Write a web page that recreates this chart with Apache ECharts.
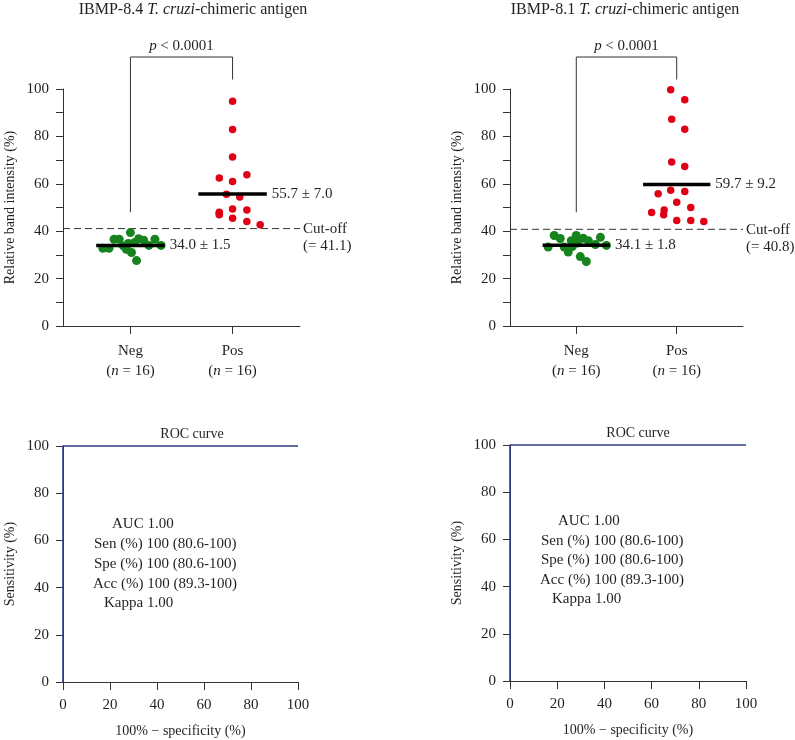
<!DOCTYPE html>
<html>
<head>
<meta charset="utf-8">
<script src="https://cdn.jsdelivr.net/npm/echarts@6/dist/echarts.min.js"></script>
<style>html,body{margin:0;padding:0;background:#fff}#c{width:795px;height:740px}</style>
</head>
<body>
<div id="c"></div>
<script>
// ---------- data ----------
const categories = ['Neg', 'Pos'];
const groupN = [16, 16];
const antigens = ['IBMP-8.4', 'IBMP-8.1'];

const neg84 = [32.8, 32.8, 36.6, 36.6, 33.8, 32.4, 39.4, 34.8, 31.0, 27.6, 36.8, 36.2, 35.2, 34.0, 36.6, 34.0];
const neg84Jitter = [-0.27, -0.21, -0.16, -0.11, -0.07, -0.04, 0.00, -0.02, 0.01, 0.06, 0.08, 0.13, 0.04, 0.18, 0.24, 0.30];
const pos84 = [94.8, 82.9, 71.3, 62.4, 61.0, 63.8, 55.6, 54.4, 49.4, 48.9, 48.0, 46.9, 45.5, 44.1, 42.7, 47.5];
const pos84Jitter = [0, 0, 0, -0.13, 0, 0.14, -0.06, 0.07, 0, 0.14, -0.13, -0.13, 0, 0.14, 0.27, -0.13];

const neg81 = [33.3, 38.2, 36.9, 33.3, 31.2, 36.0, 38.2, 35.0, 29.3, 37.0, 27.2, 36.0, 34.4, 37.4, 34.0, 33.5];
const neg81Jitter = [-0.28, -0.22, -0.16, -0.12, -0.08, -0.05, 0, 0.01, 0.04, 0.07, 0.10, 0.12, 0.19, 0.24, 0.30, -0.04];
const pos81 = [99.7, 95.5, 87.2, 83.0, 69.2, 67.3, 55.8, 57.3, 56.7, 52.2, 50.0, 47.9, 48.9, 46.9, 44.5, 44.5, 44.1];
const pos81Jitter = [-0.06, 0.08, -0.05, 0.08, -0.05, 0.08, -0.185, -0.06, 0.08, 0, 0.14, -0.25, -0.125, -0.13, 0, 0.14, 0.27];

const means84 = [34.0, 55.7];
const sds84 = ['1.5', '7.0'];
const means81 = [34.1, 59.7];
const sds81 = ['1.8', '9.2'];
const cutoffs = [41.1, 40.8];
const pValueText = '< 0.0001';
// bracket in data units: [left leg bottom, top, right leg bottom]
const bracket = [48, 113.5, 104];

const rocX = [0, 0, 100];
const rocY = [0, 100, 100];
const rocStats = ['AUC 1.00', 'Sen (%) 100 (80.6-100)', 'Spe (%) 100 (80.6-100)', 'Acc (%) 100 (89.3-100)', 'Kappa 1.00'];

// ---------- style ----------
const FONT = '"Liberation Serif", "DejaVu Serif", serif';
const TXT = '#231f20';
const GREEN = '#16831c';
const RED = '#e00016';
const NAVY = '#2f3c86';
const FS = 15;

const chart = echarts.init(document.getElementById('c'));

function pts(vals, jit, center) {
  return vals.map((v, i) => [center + jit[i], v]);
}

const grids = [
  { left: 63, top: 89, width: 237, height: 237 },
  { left: 510, top: 89, width: 233, height: 237 },
  { left: 63, top: 446, width: 235, height: 236 },
  { left: 510, top: 445, width: 236, height: 236 }
];

const xAxes = [], yAxes = [], series = [];

[0, 1].forEach(p => {
  xAxes.push({
    gridIndex: p, type: 'value', min: 0.34, max: 2.66,
    axisLine: { show: true, lineStyle: { color: '#333', width: 1 } },
    axisTick: { show: true, customValues: [1, 2], length: 8, lineStyle: { color: '#333' } },
    axisLabel: {
      customValues: [1, 2], margin: 15, color: TXT, fontFamily: FONT, fontSize: FS,
      lineHeight: 20,
      formatter: v => {
        const i = Math.round(v) - 1;
        return '{a|' + categories[i] + '}\n{a|(}{i|n}{a| = ' + groupN[i] + ')}';
      },
      rich: {
        a: { fontFamily: FONT, fontSize: FS, color: TXT, lineHeight: 20 },
        i: { fontFamily: FONT, fontSize: FS, color: TXT, fontStyle: 'italic', lineHeight: 20 }
      }
    },
    splitLine: { show: false }
  });
  yAxes.push({
    gridIndex: p, type: 'value', min: 0, max: 100, interval: 10,
    name: 'Relative band intensity (%)', nameLocation: 'middle', nameGap: 46,
    nameTextStyle: { fontFamily: FONT, fontSize: FS - 1, color: TXT },
    axisLine: { show: true, lineStyle: { color: '#333', width: 1 } },
    axisTick: { show: true, length: 7, lineStyle: { color: '#333' } },
    axisLabel: { margin: 14, color: TXT, fontFamily: FONT, fontSize: FS, formatter: v => (v % 20 === 0 ? v : '') },
    splitLine: { show: false }
  });
});

[2, 3].forEach(p => {
  xAxes.push({
    gridIndex: p, type: 'value', min: 0, max: 100, interval: 20,
    name: '100% \u2212 specificity (%)', nameLocation: 'middle', nameGap: 42,
    nameTextStyle: { fontFamily: FONT, fontSize: FS - 1, color: TXT },
    axisLine: { show: true, lineStyle: { color: '#333', width: 1 } },
    axisTick: { show: true, length: 8, lineStyle: { color: '#333' } },
    axisLabel: { margin: 16, color: TXT, fontFamily: FONT, fontSize: FS },
    splitLine: { show: false }
  });
  yAxes.push({
    gridIndex: p, type: 'value', min: 0, max: 100, interval: 20,
    name: 'Sensitivity (%)', nameLocation: 'middle', nameGap: 46,
    nameTextStyle: { fontFamily: FONT, fontSize: FS - 1, color: TXT },
    axisLine: { show: true, lineStyle: { color: '#333', width: 1 } },
    axisTick: { show: true, length: 7, lineStyle: { color: '#333' } },
    axisLabel: { margin: 14, color: TXT, fontFamily: FONT, fontSize: FS },
    splitLine: { show: false }
  });
});

const panels = [
  { neg: neg84, negJ: neg84Jitter, pos: pos84, posJ: pos84Jitter, means: means84, sds: sds84, cut: cutoffs[0] },
  { neg: neg81, negJ: neg81Jitter, pos: pos81, posJ: pos81Jitter, means: means81, sds: sds81, cut: cutoffs[1] }
];

panels.forEach((d, p) => {
  const base = { xAxisIndex: p, yAxisIndex: p };
  series.push(Object.assign({
    type: 'scatter', data: pts(d.neg, d.negJ, 1), symbolSize: 9,
    itemStyle: { color: GREEN, opacity: 1 }, z: 3
  }, base));
  series.push(Object.assign({
    type: 'scatter', data: pts(d.pos, d.posJ, 2), symbolSize: 7.5,
    itemStyle: { color: RED, opacity: 1 }, z: 3
  }, base));
  // mean bars
  [0, 1].forEach(g => {
    const c = g + 1;
    const txt = d.means[g].toFixed(1) + ' \u00b1 ' + d.sds[g];
    series.push(Object.assign({
      type: 'line', symbol: 'none', silent: true, z: 5,
      lineStyle: { color: '#000', width: 3.5 },
      data: [[c - 0.335, d.means[g]], [c + 0.335, d.means[g]]],
      endLabel: {
        show: true, distance: 5, formatter: () => txt,
        fontFamily: FONT, fontSize: FS, color: TXT
      }
    }, base));
  });
  // cut-off
  const cutTxt = 'Cut-off\n(= ' + d.cut.toFixed(1) + ')';
  series.push(Object.assign({
    type: 'line', symbol: 'none', silent: true, z: 2,
    lineStyle: { color: '#333', width: 1, type: [7, 4] },
    data: [[0.34, d.cut], [2.66, d.cut]],
    endLabel: {
      show: true, distance: 3, verticalAlign: 'top', offset: [0, -8],
      formatter: () => cutTxt, lineHeight: 17,
      fontFamily: FONT, fontSize: FS, color: TXT
    }
  }, base));
  // significance bracket
  series.push(Object.assign({
    type: 'line', symbol: 'none', silent: true, clip: false, z: 2,
    lineStyle: { color: '#333', width: 1 },
    data: [[1, bracket[0]], [1, bracket[1]], [2, bracket[1]], [2, bracket[2]]]
  }, base));
  series.push(Object.assign({
    type: 'scatter', symbolSize: 0, silent: true, clip: false,
    itemStyle: { opacity: 1, color: TXT },
    data: [[1.5, bracket[1]]],
    label: {
      show: true, position: 'top', distance: 3, opacity: 1,
      formatter: '{i|p} {a|' + pValueText + '}',
      rich: {
        a: { fontFamily: FONT, fontSize: FS, color: TXT },
        i: { fontFamily: FONT, fontSize: FS, color: TXT, fontStyle: 'italic' }
      }
    }
  }, base));
});

[2, 3].forEach(p => {
  series.push({
    type: 'line', xAxisIndex: p, yAxisIndex: p, symbol: 'none', silent: true, clip: false, z: 4,
    lineStyle: { color: NAVY, width: 1.6 },
    data: rocX.map((x, i) => [x, rocY[i]])
  });
});

const titleRich = {
  a: { fontFamily: FONT, fontSize: 16, fontWeight: 'normal', color: TXT },
  i: { fontFamily: FONT, fontSize: 16, fontWeight: 'normal', color: TXT, fontStyle: 'italic' }
};
const titles = [
  { text: '{a|' + antigens[0] + ' }{i|T. cruzi}{a|-chimeric antigen}', left: 188, top: -3, textAlign: 'center', textStyle: { fontWeight: 'normal', rich: titleRich } },
  { text: '{a|' + antigens[1] + ' }{i|T. cruzi}{a|-chimeric antigen}', left: 620, top: -3, textAlign: 'center', textStyle: { fontWeight: 'normal', rich: titleRich } },
  { text: 'ROC curve', left: 187, top: 422, textAlign: 'center', textStyle: { fontFamily: FONT, fontSize: FS - 1, fontWeight: 'normal', color: TXT } },
  { text: 'ROC curve', left: 633, top: 421, textAlign: 'center', textStyle: { fontFamily: FONT, fontSize: FS - 1, fontWeight: 'normal', color: TXT } }
];

const statPos = [
  [[112, 524], [94, 544], [94, 564], [93, 584], [104, 603]],
  [[558, 521], [541, 541], [541, 560], [540, 580], [552, 599]]
];
const graphics = [];
statPos.forEach(panel => {
  panel.forEach((xy, i) => {
    graphics.push({
      type: 'text', x: xy[0], y: xy[1], silent: true,
      style: { text: rocStats[i], font: FS + 'px ' + FONT, fill: TXT, verticalAlign: 'middle' }
    });
  });
});

chart.setOption({
  backgroundColor: '#fff',
  animation: false,
  title: titles,
  grid: grids,
  xAxis: xAxes,
  yAxis: yAxes,
  series: series,
  graphic: graphics
});
</script>
</body>
</html>
